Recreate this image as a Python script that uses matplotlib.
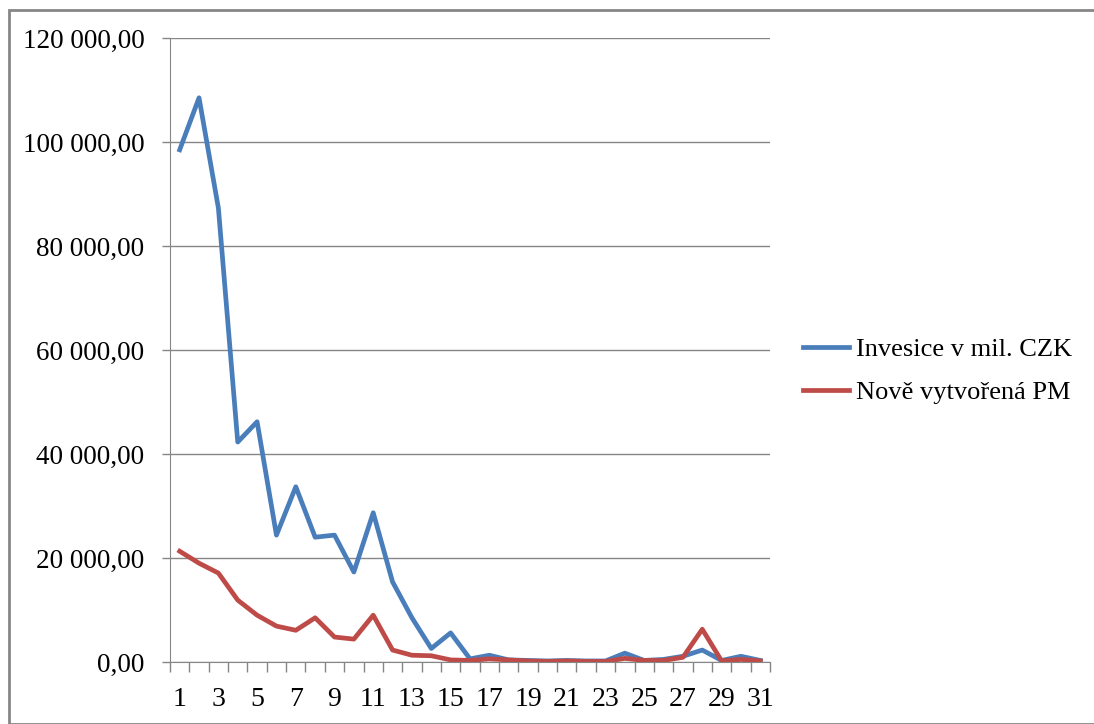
import matplotlib
matplotlib.use("Agg")
import matplotlib.pyplot as plt
from matplotlib.ticker import FuncFormatter, FixedLocator
from matplotlib.patches import Rectangle

categories = list(range(1, 32))
investice = [98500, 108500, 87300, 42300, 46200, 24400, 33700, 24000, 24400, 17300,
             28700, 15400, 8500, 2600, 5600, 600, 1300, 400, 300, 200,
             300, 200, 200, 1700, 300, 500, 1100, 2300, 300, 1100, 300]
nove_pm = [21300, 19000, 17100, 11900, 9000, 6900, 6100, 8500, 4800, 4400,
           9000, 2300, 1300, 1200, 400, 300, 600, 400, 200, 100,
           200, 100, 100, 700, 300, 300, 900, 6300, 200, 500, 200]
series_names = ["Invesice v mil. CZK", "Nově vytvořená PM"]
y_ticks = [0, 20000, 40000, 60000, 80000, 100000, 120000]
x_labels = [1, 3, 5, 7, 9, 11, 13, 15, 17, 19, 21, 23, 25, 27, 29, 31]

plt.rcParams['font.family'] = ['Liberation Serif', 'DejaVu Serif']

fig = plt.figure(figsize=(10.94, 7.24), dpi=100)
ax = fig.add_axes([170/1094, 1-662/724, 600/1094, 624/724])

blue = '#4A7EBB'
red = '#BE4B48'
ax.plot(categories, investice, color=blue, lw=3.4, label=series_names[0], solid_joinstyle='round')
ax.plot(categories, nove_pm, color=red, lw=3.4, label=series_names[1], solid_joinstyle='round')

ax.set_xlim(0.5, 31.5)
ax.set_ylim(0, 120000)
ax.set_yticks(y_ticks)

def fmt(v, pos):
    s = f"{int(round(v)):,}".replace(",", " ")
    return s + ",00"
ax.yaxis.set_major_formatter(FuncFormatter(fmt))
ax.yaxis.grid(True, color='#868686', lw=1)
ax.set_axisbelow(True)

ax.set_xticks(x_labels)
ax.set_xticklabels([str(v) for v in x_labels])
ax.xaxis.set_minor_locator(FixedLocator([i + 0.5 for i in range(0, 32)]))
ax.tick_params(axis='x', which='major', length=0, pad=18, labelsize=20)
ax.tick_params(axis='x', which='minor', length=7.5, color='#868686', width=1)
ax.tick_params(axis='y', which='major', length=5.5, color='#868686', width=1, labelsize=19.5, pad=13)

for s in ['top', 'right']:
    ax.spines[s].set_visible(False)
ax.spines['left'].set_color('#868686')
ax.spines['bottom'].set_color('#868686')

fig.legend(loc='center left', bbox_to_anchor=(803/1094, 1-371/724), frameon=False,
           fontsize=19, handlelength=1.75, handletextpad=0.25, labelspacing=0.75,
           borderpad=0, borderaxespad=0)

fig.patches.append(Rectangle((9/1094, 0), 1.2, 1 - 10/724, transform=fig.transFigure,
                             fill=False, edgecolor='#868686', lw=2, clip_on=False))

fig.savefig('out.png', dpi=100)
